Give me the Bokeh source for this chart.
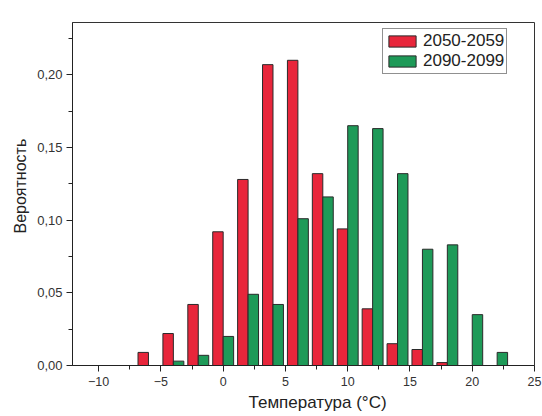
from bokeh.plotting import figure
from bokeh.models import (ColumnDataSource, FixedTicker, CustomJSTickFormatter,
                          Range1d, Legend, LegendItem, Title)
from bokeh.transform import dodge
from bokeh.embed import file_html
from bokeh.resources import INLINE

# Temperature bins (°C) and probability per bin for the two decades
bin_centers = [-6, -4, -2, 0, 2, 4, 6, 8, 10, 12, 14, 16, 18, 20, 22]
prob_2050 = [0.009, 0.022, 0.042, 0.092, 0.128, 0.207, 0.210, 0.132,
             0.094, 0.039, 0.015, 0.011, 0.002, 0.0, 0.0]
prob_2090 = [0.0, 0.003, 0.007, 0.020, 0.049, 0.042, 0.101, 0.116,
             0.165, 0.163, 0.132, 0.080, 0.083, 0.035, 0.009]
series_labels = ["2050-2059", "2090-2099"]

x_ticks = [-10, -5, 0, 5, 10, 15, 20, 25]
y_ticks = [0.0, 0.05, 0.10, 0.15, 0.20]

src = ColumnDataSource(dict(x=bin_centers, a=prob_2050, b=prob_2090))

FONT = "Liberation Sans"
RED = "#E8263B"
GREEN = "#1E9A58"
INK = "#222222"

p = figure(width=542, height=416, output_backend="svg", toolbar_location=None,
           x_range=Range1d(-12.1, 25), y_range=Range1d(0, 0.236))
p.min_border_left = 72
p.min_border_right = 8
p.min_border_top = 22
p.min_border_bottom = 51
p.background_fill_color = "white"
p.border_fill_color = "white"
p.outline_line_color = "#333333"
p.outline_line_width = 1
p.xgrid.visible = False
p.ygrid.visible = False

bar_w = 0.84
r1 = p.vbar(x=dodge("x", -0.42, range=p.x_range), top="a", width=bar_w, source=src,
            fill_color=RED, line_color="#2a2a2a", line_width=1)
r2 = p.vbar(x=dodge("x", 0.42, range=p.x_range), top="b", width=bar_w, source=src,
            fill_color=GREEN, line_color="#2a2a2a", line_width=1)

# axes
xa = p.xaxis[0]
xa.ticker = FixedTicker(ticks=x_ticks,
                        minor_ticks=[t + 2.5 for t in [-15] + x_ticks])
ya = p.yaxis[0]
ya.ticker = FixedTicker(ticks=y_ticks,
                        minor_ticks=[0.025, 0.075, 0.125, 0.175, 0.225])
ya.formatter = CustomJSTickFormatter(code="return tick.toFixed(2).replace('.', ',');")

for ax in (xa, ya):
    ax.axis_line_color = INK
    ax.major_tick_line_color = INK
    ax.minor_tick_line_color = INK
    ax.major_tick_in = 0
    ax.major_tick_out = 6
    ax.minor_tick_in = 0
    ax.minor_tick_out = 4
    ax.major_label_text_font = FONT
    ax.major_label_text_color = "#333333"
xa.major_label_text_font_size = "12.5px"
ya.major_label_text_font_size = "13px"
xa.major_label_standoff = 5
ya.major_label_standoff = 4

# axis titles, placed as side panels so they can be shifted along the axis
x_title = Title(text="Температура (°C)", align="left", offset=176,
                text_font=FONT, text_font_size="17px", text_font_style="normal",
                text_color=INK, standoff=4)
y_title = Title(text="Вероятность", align="left", offset=132,
                text_font=FONT, text_font_size="16px", text_font_style="normal",
                text_color=INK, standoff=12)
p.add_layout(x_title, "below")
p.add_layout(y_title, "left")

legend = Legend(items=[LegendItem(label=series_labels[0], renderers=[r1]),
                       LegendItem(label=series_labels[1], renderers=[r2])],
                location=(310, 291))
legend.label_text_font = FONT
legend.label_text_font_size = "17px"
legend.label_text_line_height = 1.0
legend.label_text_color = INK
legend.label_height = 17
legend.glyph_width = 34
legend.glyph_height = 14
legend.label_standoff = 4
legend.spacing = 0
legend.padding = 2
legend.margin = 0
legend.border_line_color = INK
legend.border_line_width = 1
legend.background_fill_color = "white"
legend.background_fill_alpha = 1
p.add_layout(legend, "center")

open("out.html", "w").write(file_html(p, INLINE))
